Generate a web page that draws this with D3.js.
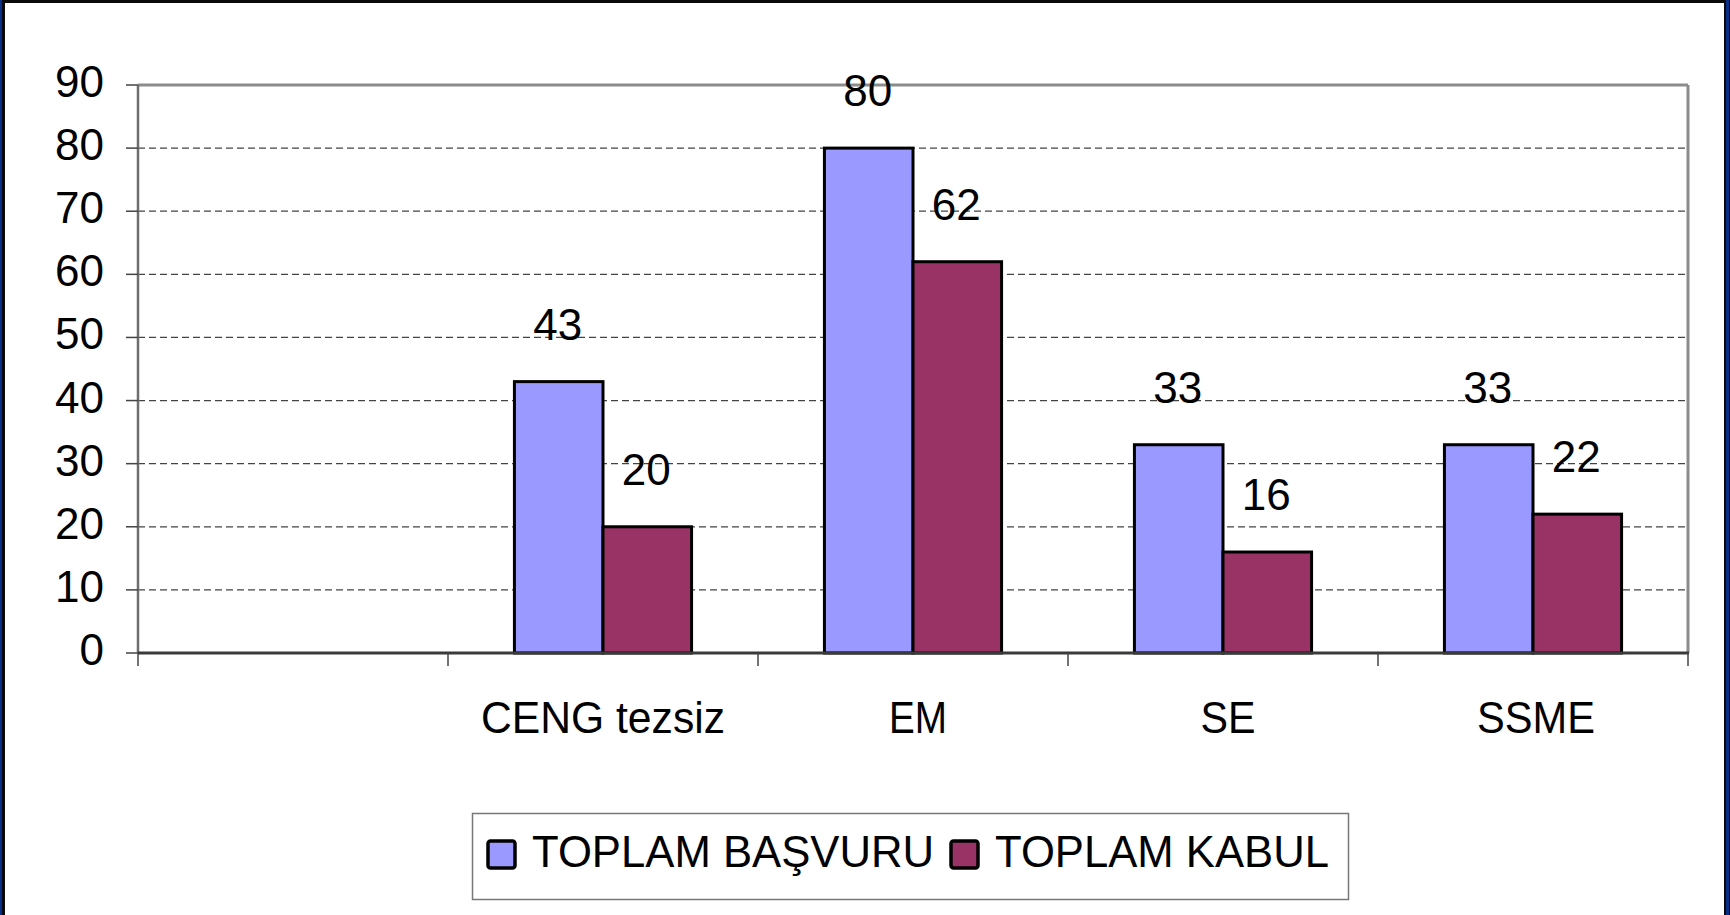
<!DOCTYPE html>
<html>
<head>
<meta charset="utf-8">
<script src="https://cdn.jsdelivr.net/npm/d3@7"></script>
<style>
  body { margin: 0; background: #fff; }
  text { font-family: "Liberation Sans", Arial, sans-serif; fill: #000; }
</style>
</head>
<body>
<svg id="chart"></svg>
<script>
// DATA
const categories = ["", "CENG tezsiz", "EM", "SE", "SSME"];
const seriesNames = ["TOPLAM BAŞVURU", "TOPLAM KABUL"];
const basvuru = [null, 43, 80, 33, 33];
const kabul = [null, 20, 62, 16, 22];
const yTicks = [0, 10, 20, 30, 40, 50, 60, 70, 80, 90];
const colors = ["#9999ff", "#993366"];

// SVG + plot area
const W = 1730, H = 915;
const plot = { left: 138, right: 1688, top: 85, bottom: 653 };
const svg = d3.select("#chart").attr("width", W).attr("height", H);

svg.append("rect").attr("width", W).attr("height", H).attr("fill", "#fff");

const x0 = d3.scaleBand().domain(categories).range([plot.left, plot.right]).padding(0);
// Excel style gap width 150%: bar = band / 3.5
const bw = x0.bandwidth() / 3.5;
const x1 = d3.scaleBand().domain(seriesNames)
    .range([0.75 * bw, 2.75 * bw]).padding(0);
const y = d3.scaleLinear().domain([0, 90]).range([plot.bottom, plot.top]);

// dashed gridlines
svg.append("g").selectAll("line")
    .data(yTicks.filter(t => t > 0 && t < 90))
    .enter().append("line")
    .attr("x1", plot.left).attr("x2", plot.right - 2)
    .attr("y1", d => y(d)).attr("y2", d => y(d))
    .attr("stroke", "#444").attr("stroke-width", 1.3)
    .attr("stroke-dasharray", "7,4");

// frame: top and right in grey
svg.append("line").attr("x1", plot.left).attr("x2", plot.right)
    .attr("y1", plot.top).attr("y2", plot.top)
    .attr("stroke", "#8c8c8c").attr("stroke-width", 3);
svg.append("line").attr("x1", plot.right).attr("x2", plot.right)
    .attr("y1", plot.top).attr("y2", plot.bottom)
    .attr("stroke", "#8c8c8c").attr("stroke-width", 3);

// y axis ticks + labels
svg.append("line").attr("x1", plot.left).attr("x2", plot.left)
    .attr("y1", plot.top).attr("y2", plot.bottom)
    .attr("stroke", "#6e6e6e").attr("stroke-width", 2.5);
const yAx = svg.append("g");
yAx.selectAll("line").data(yTicks).enter().append("line")
    .attr("x1", plot.left - 12).attr("x2", plot.left)
    .attr("y1", d => y(d)).attr("y2", d => y(d))
    .attr("stroke", "#444").attr("stroke-width", 1.5);
yAx.selectAll("text").data(yTicks).enter().append("text")
    .attr("x", 104).attr("y", d => y(d) + 12)
    .attr("text-anchor", "end")
    .attr("font-size", "44px")
    .text(d => d);

// bars
const rows = categories.map((c, i) => ({ cat: c, vals: [basvuru[i], kabul[i]] }));
const groups = svg.append("g").selectAll("g")
    .data(rows).enter().append("g")
    .attr("transform", d => `translate(${x0(d.cat)},0)`);

groups.selectAll("rect")
    .data(d => d.vals.map((v, j) => ({ s: seriesNames[j], v: v, j: j })).filter(e => e.v != null))
    .enter().append("rect")
    .attr("x", d => x1(d.s))
    .attr("y", d => y(d.v))
    .attr("width", x1.bandwidth())
    .attr("height", d => y(0) - y(d.v))
    .attr("fill", d => colors[d.j])
    .attr("stroke", "#000").attr("stroke-width", 3);

groups.selectAll("text")
    .data(d => d.vals.map((v, j) => ({ s: seriesNames[j], v: v })).filter(e => e.v != null))
    .enter().append("text")
    .attr("x", d => x1(d.s) + x1.bandwidth() / 2 - 1)
    .attr("y", d => y(d.v) - 42)
    .attr("text-anchor", "middle")
    .attr("font-size", "44px")
    .text(d => d.v);

// x axis
svg.append("line").attr("x1", plot.left).attr("x2", plot.right + 1)
    .attr("y1", plot.bottom).attr("y2", plot.bottom)
    .attr("stroke", "#3a3a3a").attr("stroke-width", 3);
const xTickPos = categories.map(c => x0(c)).concat([plot.right]);
svg.append("g").selectAll("line").data(xTickPos).enter().append("line")
    .attr("x1", d => d).attr("x2", d => d)
    .attr("y1", plot.bottom).attr("y2", plot.bottom + 13)
    .attr("stroke", "#444").attr("stroke-width", 1.5);

const catWidths = { "CENG tezsiz": 244, "EM": 58, "SE": 55, "SSME": 118 };
const catShift = { "CENG tezsiz": 0, "EM": 5, "SE": 5, "SSME": 3 };
svg.append("g").selectAll("text").data(categories.filter(c => c !== "")).enter().append("text")
    .attr("x", d => x0(d) + x0.bandwidth() / 2 - catWidths[d] / 2 + catShift[d])
    .attr("y", 733)
    .attr("font-size", "45px")
    .attr("textLength", d => catWidths[d])
    .attr("lengthAdjust", "spacingAndGlyphs")
    .text(d => d);

// legend
const legend = svg.append("g");
legend.append("rect")
    .attr("x", 472.5).attr("y", 813.5).attr("width", 876).attr("height", 86)
    .attr("fill", "#fff").attr("stroke", "#777").attr("stroke-width", 1.5);
const legItems = [
    { name: seriesNames[0], sx: 488, tx: 532, tw: 402 },
    { name: seriesNames[1], sx: 951, tx: 995, tw: 334 }
];
legItems.forEach((it, i) => {
    legend.append("rect")
        .attr("x", it.sx).attr("y", 841).attr("width", 27).attr("height", 27)
        .attr("rx", 2.5)
        .attr("fill", colors[i]).attr("stroke", "#000").attr("stroke-width", 3.5);
    legend.append("text")
        .attr("x", it.tx).attr("y", 867)
        .attr("font-size", "45px")
        .attr("textLength", it.tw)
        .attr("lengthAdjust", "spacingAndGlyphs")
        .text(it.name);
});

// outer frame
svg.append("rect").attr("x", 0).attr("y", 0).attr("width", W).attr("height", 3).attr("fill", "#0a0a0a");
svg.append("rect").attr("x", 0).attr("y", 0).attr("width", 2).attr("height", H).attr("fill", "#0b2f86");
svg.append("rect").attr("x", 2).attr("y", 0).attr("width", 3).attr("height", H).attr("fill", "#0a0a0a");
svg.append("rect").attr("x", 1724).attr("y", 0).attr("width", 2).attr("height", H).attr("fill", "#0a0a0a");
svg.append("rect").attr("x", 1726).attr("y", 0).attr("width", 3).attr("height", H).attr("fill", "#0b2f86");
svg.append("rect").attr("x", 1729).attr("y", 0).attr("width", 1).attr("height", H).attr("fill", "#0a0a0a");
</script>
</body>
</html>
